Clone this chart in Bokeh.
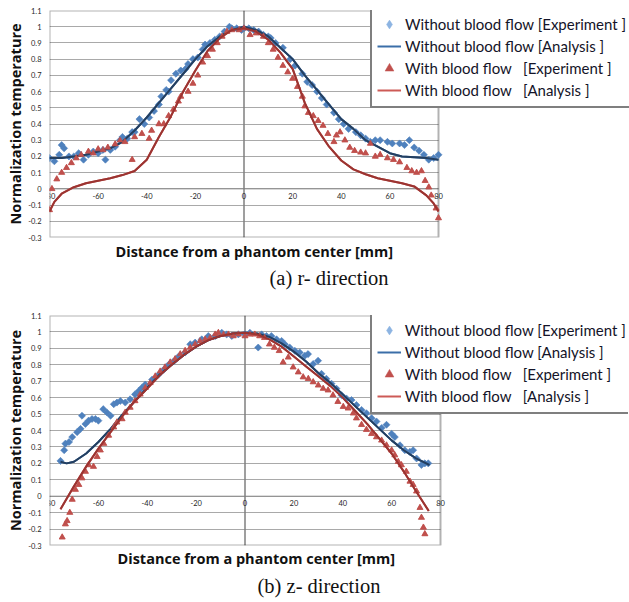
import math
from bokeh.plotting import figure
from bokeh.models import (Range1d, FixedTicker, Legend, LegendItem, Span, Title, BoxAnnotation)
from bokeh.core.properties import value
from bokeh.layouts import column
from bokeh.embed import file_html
from bokeh.resources import INLINE

# ---------------- ticks / texts ----------------
x_ticks = [-80, -60, -40, -20, 0, 20, 40, 60, 80]
x_tick_labels = ["-80", "-60", "-40", "-20", "0", "20", "40", "60", "80"]
y_ticks = [-0.3, -0.2, -0.1, 0, 0.1, 0.2, 0.3, 0.4, 0.5, 0.6, 0.7, 0.8, 0.9, 1, 1.1]
y_tick_labels = ["-0.3", "-0.2", "-0.1", "0", "0.1", "0.2", "0.3", "0.4", "0.5", "0.6",
                 "0.7", "0.8", "0.9", "1", "1.1"]
x_min, x_max = -80, 80
y_min, y_max = -0.3, 1.1
x_axis_cross = 0

series_names = ["Without blood flow [Experiment ]",
                "Without blood flow [Analysis ]",
                "With blood flow\u00a0\u00a0\u00a0[Experiment ]",
                "With blood flow\u00a0\u00a0\u00a0[Analysis ]"]
x_label = "Distance from a phantom center [mm]"
y_label = "Normalization temperature"
captions = ["(a) r- direction", "(b) z- direction"]

# ---------------- (a) r-direction ----------------
a_wo_exp_x = [-80, -78, -76, -75, -74, -72, -70, -68, -66, -64, -62, -60, -58, -57, -55, -53, -51,
              -50, -48, -46, -45, -43, -41, -39, -37, -35, -34, -32, -31, -30, -28, -26, -24, -23,
              -21, -19, -17, -16, -14, -12, -10, -8, -6, -5, -3, -1, 0, 2, 4, 6, 8, 10, 11, 13, 16,
              19, 21, 24, 26, 28, 30, 32, 34, 37, 39, 41, 43, 46, 48, 50, 52, 54, 56, 59, 61, 64,
              66, 68, 70, 72, 74, 76, 78, 80]
a_wo_exp_y = [0.19, 0.17, 0.21, 0.27, 0.25, 0.2, 0.2, 0.22, 0.18, 0.21, 0.23, 0.22, 0.24, 0.18,
              0.24, 0.26, 0.3, 0.32, 0.31, 0.35, 0.35, 0.43, 0.4, 0.44, 0.48, 0.52, 0.57, 0.61,
              0.6, 0.67, 0.71, 0.73, 0.74, 0.77, 0.8, 0.81, 0.86, 0.89, 0.9, 0.92, 0.94, 0.97,
              1.0, 0.99, 0.99, 0.98, 0.99, 0.99, 0.98, 0.97, 0.95, 0.94, 0.93, 0.9, 0.87, 0.8,
              0.76, 0.71, 0.66, 0.64, 0.6, 0.56, 0.52, 0.47, 0.43, 0.4, 0.37, 0.35, 0.33, 0.31,
              0.29, 0.3, 0.3, 0.29, 0.28, 0.28, 0.27, 0.3, 0.255, 0.235, 0.21, 0.18, 0.19, 0.21]

a_w_exp_x = [-80, -79, -77, -75, -73, -71, -69, -67, -64, -62, -60, -58, -56, -53, -51, -49, -46,
             -45, -42, -39, -38, -35, -33, -31, -29, -27, -26, -23, -21, -19, -17, -15, -13, -11,
             -9, -7, -5, -2, 0, 2.5, 5, 8, 10, 12, 14, 16, 18, 20, 22, 24, 25, 26.5, 28.5, 30.5,
             32.5, 34.5, 37, 38, 39.5, 41.5, 43.5, 45.5, 48, 50, 52, 54, 56, 59, 61.5, 64, 67, 69,
             71, 73, 74.5, 76, 77, 79, 80]
a_w_exp_y = [-0.13, 0.0, 0.06, 0.1, 0.13, 0.16, 0.19, 0.21, 0.23, 0.22, 0.245, 0.24, 0.255, 0.275,
             0.3, 0.29, 0.18, 0.32, 0.34, 0.31, 0.36, 0.4, 0.4, 0.45, 0.49, 0.54, 0.57, 0.6, 0.65,
             0.7, 0.78, 0.82, 0.86, 0.9, 0.94, 0.97, 0.98, 0.98, 0.99, 0.95, 0.96, 0.94, 0.9,
             0.86, 0.81, 0.76, 0.72, 0.68, 0.63, 0.57, 0.51, 0.47, 0.45, 0.42, 0.39, 0.34, 0.29,
             0.33, 0.35, 0.3, 0.255, 0.235, 0.225, 0.22, 0.28, 0.2, 0.21, 0.19, 0.18, 0.165,
             0.13, 0.11, 0.1, 0.11, 0.05, 0.01, -0.04, -0.12, -0.18]

a_wo_ana_x = [-80, -75, -70, -65, -60, -55, -50, -45, -40, -35, -30, -25, -20, -15, -10, -5, 0,
              5, 10, 15, 20, 25, 30, 35, 40, 45, 50, 55, 60, 65, 70, 75, 80]
a_wo_ana_y = [0.19, 0.19, 0.2, 0.21, 0.23, 0.25, 0.29, 0.36, 0.44, 0.53, 0.62, 0.71, 0.8, 0.88,
              0.94, 0.98, 1.0, 0.98, 0.94, 0.87, 0.8, 0.7, 0.61, 0.52, 0.43, 0.37, 0.3, 0.26,
              0.22, 0.2, 0.195, 0.19, 0.18]

a_w_ana_x = [-80, -78, -75, -70, -65, -60, -55, -50, -45, -40, -35, -30, -25, -20, -15, -10, -5,
             0, 5, 10, 15, 20, 25, 30, 35, 40, 45, 50, 55, 60, 65, 70, 75, 78, 80]
a_w_ana_y = [-0.14, -0.08, -0.03, 0.01, 0.035, 0.05, 0.065, 0.085, 0.11, 0.18, 0.32, 0.45, 0.6,
             0.73, 0.85, 0.93, 0.98, 0.99, 0.97, 0.92, 0.84, 0.74, 0.53, 0.37, 0.26, 0.175,
             0.12, 0.09, 0.065, 0.05, 0.035, 0.015, -0.04, -0.09, -0.14]

# ---------------- (b) z-direction ----------------
b_wo_exp_x = [-75.5, -74, -73.5, -72, -70.7, -68.7, -67.3, -66.7, -65.3, -64, -62.6, -61.2, -60,
              -58, -56.5, -55, -53.7, -52.4, -51, -49, -47, -45, -43.5, -42.2, -40.8, -38, -35.4,
              -33.3, -31.3, -29.3, -27.2, -24.5, -22.4, -20.4, -17.7, -15, -12.2, -9.5, -7.5,
              -5.4, -2.7, 0, 2, 5.4, 6.8, 8.8, 10.8, 12.9, 15, 16.3, 18.3, 20.4, 22.4, 24.5, 25.8,
              27.9, 29.9, 31.3, 33.3, 35.4, 37.4, 39.5, 41.5, 43.6, 45.6, 47.7, 49.7, 51.8, 53.8,
              55.9, 57.9, 60, 61.3, 63.4, 65.4, 67.5, 68.8, 70.2, 72.2, 73.6, 75]
b_wo_exp_y = [0.215, 0.28, 0.32, 0.33, 0.36, 0.39, 0.41, 0.49, 0.44, 0.46, 0.47, 0.47, 0.46, 0.53,
              0.51, 0.49, 0.56, 0.57, 0.58, 0.57, 0.59, 0.62, 0.64, 0.66, 0.68, 0.71, 0.74, 0.77,
              0.8, 0.82, 0.85, 0.875, 0.925, 0.935, 0.955, 0.975, 0.975, 0.995, 0.985, 0.975,
              0.985, 0.985, 0.995, 0.905, 0.985, 0.975, 0.975, 0.955, 0.945, 0.925, 0.905, 0.885,
              0.875, 0.855, 0.865, 0.805, 0.825, 0.745, 0.715, 0.685, 0.655, 0.615, 0.595, 0.585,
              0.555, 0.525, 0.505, 0.475, 0.455, 0.415, 0.435, 0.38, 0.36, 0.31, 0.28, 0.27,
              0.28, 0.23, 0.19, 0.2, 0.2]

b_w_exp_x = [-74.8, -73.5, -72.8, -71.7, -70.7, -69.4, -68, -66.7, -65.3, -64, -62, -60.5, -59.2,
             -57.8, -55.8, -53.7, -52.4, -50.3, -49, -47, -45, -42.9, -40.8, -38.8, -36.7, -34.7,
             -32.7, -30.6, -28.6, -26.5, -24.5, -22.4, -20.4, -18.4, -16.3, -14.3, -12.2, -10.9,
             -8.8, -6.8, -4.8, -2.7, 0, 2, 4, 6, 8, 10, 12, 14, 15.6, 17.7, 19.7, 21.8, 23.8, 25.9,
             27.9, 30, 32, 34, 36, 38, 40.2, 42.2, 44.3, 45.6, 47.7, 49.7, 51.8, 53.8, 55.9, 57.9,
             60, 61.3, 62.7, 64, 66, 67.5, 68.8, 70.2, 71.6, 72.2, 73, 73.6]
b_w_exp_y = [-0.25, -0.17, -0.15, -0.1, -0.02, 0.04, 0.07, 0.11, 0.15, 0.19, 0.18, 0.24, 0.28,
             0.32, 0.37, 0.42, 0.45, 0.47, 0.51, 0.54, 0.58, 0.62, 0.66, 0.69, 0.73, 0.76, 0.785,
             0.815, 0.835, 0.865, 0.885, 0.905, 0.925, 0.945, 0.955, 0.965, 0.985, 0.995, 0.985,
             0.985, 0.975, 0.985, 0.975, 0.985, 0.985, 0.975, 0.965, 0.925, 0.905, 0.885, 0.815,
             0.845, 0.785, 0.755, 0.725, 0.715, 0.695, 0.675, 0.655, 0.645, 0.615, 0.575, 0.545,
             0.535, 0.505, 0.475, 0.435, 0.405, 0.38, 0.36, 0.34, 0.31, 0.28, 0.25, 0.21, 0.19,
             0.15, 0.09, 0.07, 0.03, -0.07, -0.13, -0.19, -0.23]

b_wo_ana_x = [-75.5, -73, -70, -65, -60, -55, -50, -45, -40, -35, -30, -25, -20, -15, -10, -5, 0,
              5, 10, 15, 20, 25, 30, 35, 40, 45, 50, 55, 60, 65, 70, 75.5]
b_wo_ana_y = [0.21, 0.2, 0.21, 0.26, 0.33, 0.41, 0.5, 0.58, 0.66, 0.74, 0.8, 0.86, 0.91, 0.95,
              0.975, 0.99, 0.995, 0.99, 0.97, 0.93, 0.88, 0.82, 0.75, 0.69, 0.62, 0.55, 0.48,
              0.41, 0.34, 0.28, 0.23, 0.19]

b_w_ana_x = [-75.5, -70, -65, -60, -55, -50, -45, -40, -35, -30, -25, -20, -15, -10, -5, 0, 5, 10,
             15, 20, 25, 30, 35, 40, 45, 50, 55, 60, 65, 70, 75.2]
b_w_ana_y = [-0.08, 0.06, 0.18, 0.29, 0.39, 0.49, 0.58, 0.655, 0.735, 0.8, 0.86, 0.91, 0.95,
             0.975, 0.99, 0.995, 0.985, 0.955, 0.91, 0.85, 0.79, 0.73, 0.67, 0.6, 0.52, 0.44,
             0.35, 0.26, 0.15, 0.03, -0.09]

BLUE = "#4f81bd"
RED = "#c0504d"
BLUE_LINE = "#243f60"
RED_LINE = "#9b3431"
LEG_BLUE = "#8db4e2"
LEG_BLUE_LINE = "#3b6ea8"
LEG_RED_LINE = "#cd5a56"
FONT = "Lato"
BOLD_FONT = "Open Sans"
SERIF = "Liberation Serif"
PAGE_W = 629


def make_panel(left, top, bottom, frame_h, box_w, legend_xy, data, caption,
               xl_offset, xl_standoff, cap_offset, cap_standoff):
    frame_w = PAGE_W - left
    # the frame runs to the right edge of the page; the plot box covers x_min..x_max
    x_end = x_min + (x_max - x_min) * frame_w / box_w
    p = figure(frame_width=frame_w, frame_height=frame_h,
               x_range=Range1d(x_min, x_end), y_range=Range1d(y_min, y_max),
               output_backend="svg", toolbar_location=None,
               min_border_left=left, min_border_right=0,
               min_border_top=top, min_border_bottom=bottom)
    p.background_fill_color = "white"
    p.border_fill_color = "white"
    p.outline_line_color = None

    # horizontal grid
    p.xgrid.visible = False
    p.ygrid.grid_line_color = "#a9a9a9"
    p.ygrid.grid_line_width = 1

    # y axis on the left
    ya = p.yaxis[0]
    ya.ticker = FixedTicker(ticks=y_ticks)
    ya.major_label_overrides = {t: s for t, s in zip(y_ticks, y_tick_labels)}
    ya.major_tick_line_color = None
    ya.major_tick_out = 0
    ya.major_tick_in = 0
    ya.minor_tick_line_color = None
    ya.minor_tick_out = 0
    ya.axis_line_color = None
    ya.major_label_standoff = 8
    ya.major_label_text_font = FONT
    ya.major_label_text_font_size = "7.5px"
    ya.major_label_text_color = "#1f1f1f"
    ya.axis_label = y_label
    ya.axis_label_text_font = BOLD_FONT
    ya.axis_label_text_font_size = "14.5px"
    ya.axis_label_text_font_style = "bold"
    ya.axis_label_text_color = "#111111"
    ya.axis_label_standoff = 0

    # x axis drawn at y = 0 (tick labels placed with the data scales)
    p.xaxis.visible = False
    p.add_layout(Span(location=x_axis_cross, dimension="width", line_color="#8c8c8c",
                      line_width=1, level="underlay"))
    p.add_layout(Span(location=x_axis_cross, dimension="height", line_color="#7f7f7f",
                      line_width=1.5, level="underlay"))
    # blank area right of the plot box, and the plot box border
    p.add_layout(BoxAnnotation(left=x_max, fill_color="white", fill_alpha=1,
                               line_alpha=0, level="underlay"))
    p.add_layout(BoxAnnotation(left=x_min, right=x_max, bottom=y_min, top=y_max,
                               fill_alpha=0, line_color="black", line_width=2,
                               level="underlay"))
    p.text(x=x_ticks, y=[x_axis_cross] * len(x_ticks), text=x_tick_labels,
           text_align="center", text_baseline="top", y_offset=4,
           text_font=value(FONT), text_font_size="7.5px", text_color="#1f1f1f")

    (wo_ex_x, wo_ex_y), (wo_an_x, wo_an_y), (w_ex_x, w_ex_y), (w_an_x, w_an_y) = data
    # legend-styled copies first (hidden under the plotted series, shown in the legend)
    l1 = p.scatter(wo_ex_x, wo_ex_y, marker="diamond", size=5,
                   fill_color=LEG_BLUE, line_color=LEG_BLUE, line_width=0.5)
    l2 = p.line(wo_an_x, wo_an_y, line_color=LEG_BLUE_LINE, line_width=2)
    l3 = p.scatter(w_ex_x, w_ex_y, marker="triangle", size=6,
                   fill_color=RED, line_color=RED, line_width=0.5)
    l4 = p.line(w_an_x, w_an_y, line_color=LEG_RED_LINE, line_width=2)

    p.scatter(wo_ex_x, wo_ex_y, marker="square", angle=math.pi / 4, size=5,
              fill_color=BLUE, line_color=BLUE, line_width=0.6)
    p.line(wo_an_x, wo_an_y, line_color=BLUE_LINE, line_width=2)
    p.scatter(w_ex_x, w_ex_y, marker="triangle", size=6,
              fill_color=RED, line_color=RED, line_width=0.5)
    p.line(w_an_x, w_an_y, line_color=RED_LINE, line_width=2)

    legend = Legend(items=[LegendItem(label=n, renderers=[r]) for n, r in
                           zip(series_names, [l1, l2, l3, l4])],
                    location=legend_xy)
    legend.label_text_font = FONT
    legend.label_text_font_size = "15px"
    legend.label_text_color = "#141428"
    legend.glyph_width = 24
    legend.glyph_height = 22
    legend.label_standoff = 4
    legend.label_height = 18
    legend.spacing = 0
    legend.padding = 5
    legend.margin = 0
    legend.border_line_color = "black"
    legend.border_line_width = 2
    legend.background_fill_color = "white"
    legend.background_fill_alpha = 1
    p.add_layout(legend)

    p.add_layout(Title(text=x_label, align="left", text_font=BOLD_FONT, text_font_size="14.5px",
                       text_font_style="bold", text_color="#111111", offset=xl_offset,
                       standoff=xl_standoff), "below")
    p.add_layout(Title(text=caption, align="left", text_font=SERIF,
                       text_font_size="20.5px", text_font_style="normal", text_color="#111111",
                       offset=cap_offset, standoff=cap_standoff), "below")
    return p


p1 = make_panel(49, 10, 54, 227, 389, (321, 129),
                [(a_wo_exp_x, a_wo_exp_y), (a_wo_ana_x, a_wo_ana_y),
                 (a_w_exp_x, a_w_exp_y), (a_w_ana_x, a_w_ana_y)],
                captions[0], 66, 5, 220, 2)
p2 = make_panel(48, 24, 57, 230, 391, (323, 131),
                [(b_wo_exp_x, b_wo_exp_y), (b_wo_ana_x, b_wo_ana_y),
                 (b_w_exp_x, b_w_exp_y), (b_w_ana_x, b_w_ana_y)],
                captions[1], 68, 3, 208, 6)

layout = column(p1, p2)
open("out.html", "w").write(file_html(layout, INLINE))
